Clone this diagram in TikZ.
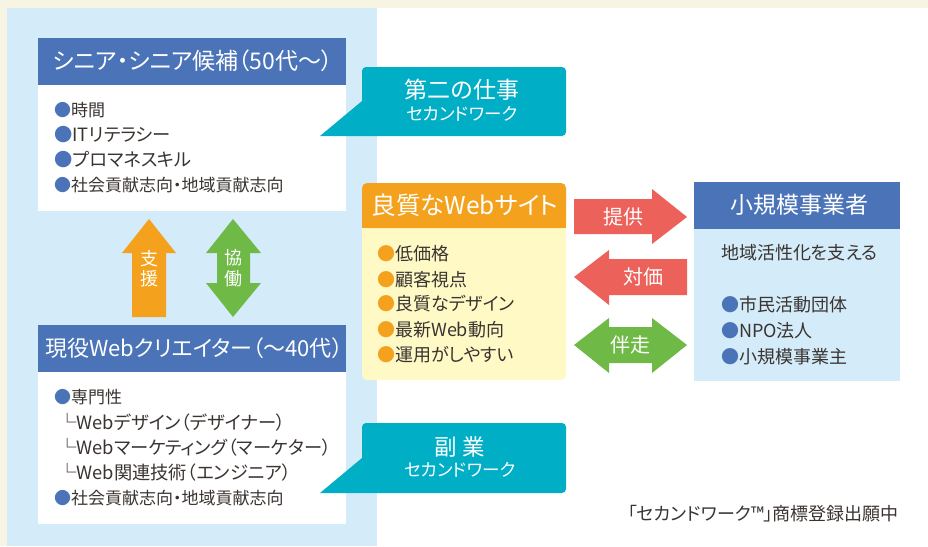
\documentclass[tikz,border=0pt]{standalone}
\usepackage{fontspec}
\setmainfont{Noto Sans CJK JP}[RawFeature=+palt]
\definecolor{cream}{HTML}{F7F4E3}
\definecolor{panel}{HTML}{D4ECF9}
\definecolor{hblue}{HTML}{4A73B8}
\definecolor{teal}{HTML}{00AEC6}
\definecolor{orng}{HTML}{F4A21D}
\definecolor{ylw}{HTML}{FFF9C6}
\definecolor{rd}{HTML}{EC625A}
\definecolor{grn}{HTML}{6FB946}
\definecolor{ink}{HTML}{3A3431}
\newcommand{\fs}[1]{\fontsize{#1}{#1}\selectfont}
\begin{document}
\begin{tikzpicture}[x=1pt,y=-1pt,
  item/.style={anchor=west,inner sep=0pt,text=ink,font=\fs{17}},
  wide/.style={font=\fs{18.3}},
  head/.style={inner sep=0pt,text=white,font=\fs{22}},
  lbl/.style={inner sep=0pt,text=white,font=\fs{20}},
  vlbl/.style={inner sep=0pt,text=white,font=\fs{18}},
  big/.style={inner sep=0pt,text=white,font=\fs{23}},
  small/.style={inner sep=0pt,text=white,font=\fs{17.5}}]
\useasboundingbox (0,0) rectangle (928,546);
% backgrounds
\fill[cream] (0,0) rectangle (928,546);
\fill[white] (7,8) rectangle (928,546);
\fill[panel] (7,8) rectangle (377,546);
% senior box
\fill[hblue] (38,38) rectangle (346,85);
\fill[white] (38,85) rectangle (346,211);
\node[head,font=\fs{23}] (shead) at (193,61) {シニア・シニア候補（50代〜）};
\node[item] (s1) at (54,110) {\textcolor{hblue}{●}時間};
\node[item,wide] (s2) at (54,135) {\textcolor{hblue}{●}ITリテラシー};
\node[item,wide] (s3) at (54,160) {\textcolor{hblue}{●}プロマネスキル};
\node[item] (s4) at (54,185) {\textcolor{hblue}{●}社会貢献志向・地域貢献志向};
% creator box
\fill[hblue] (38,325) rectangle (346,372);
\fill[white] (38,372) rectangle (346,524);
\node[head] (chead) at (194,348) {現役Webクリエイター（〜40代）};
\node[item] (c1) at (54,397) {\textcolor{hblue}{●}専門性};
\node[item,wide] (c2) at (58,422) {└Webデザイン（デザイナー）};
\node[item,wide] (c3) at (58,447) {└Webマーケティング（マーケター）};
\node[item,wide] (c4) at (58,472) {└Web関連技術（エンジニア）};
\node[item] (c5) at (54,498) {\textcolor{hblue}{●}社会貢献志向・地域貢献志向};
% support arrow
\fill[orng] (132,317) -- (132,253) -- (122,253) -- (149,219) -- (176,253) -- (166,253) -- (166,317) -- cycle;
\node[vlbl] (sa1) at (149,259) {支};
\node[vlbl] (sa2) at (149,279) {援};
% cooperation arrow
\fill[grn] (217,283) -- (206,283) -- (233,317) -- (261,283) -- (250,283) -- (250,253) -- (261,253) -- (233,219) -- (206,253) -- (217,253) -- cycle;
\node[vlbl] (ka1) at (233,258) {協};
\node[vlbl] (ka2) at (233,279) {働};
% callouts
\fill[teal] (320,136) -- (362,101) [rounded corners=4] -- (362,67) -- (566,67) -- (566,136) [sharp corners] -- cycle;
\node[big] (w1) at (462,90) {第二の仕事};
\node[small] (w1s) at (462,114) {セカンドワーク};
\fill[teal] (320,493) -- (362,458) [rounded corners=4] -- (362,423) -- (566,423) -- (566,493) [sharp corners] -- cycle;
\node[big,font=\fs{22.5}] (w2) at (460,447) {副 業};
\node[small] (w2s) at (460,470) {セカンドワーク};
% website box
\fill[ylw,rounded corners=5] (362,183) rectangle (566,380);
\fill[orng,rounded corners=5] (362,183) rectangle (566,228);
\fill[orng] (362,215) rectangle (566,228);
\node[head,font=\fs{24.5}] (whead) at (465,205) {良質なWebサイト};
\node[item,font=\fs{18}] (y1) at (377,254) {\textcolor{orng}{●}低価格};
\node[item,font=\fs{18}] (y2) at (377,280) {\textcolor{orng}{●}顧客視点};
\node[item,font=\fs{18}] (y3) at (377,304) {\textcolor{orng}{●}良質なデザイン};
\node[item,font=\fs{18}] (y4) at (377,330) {\textcolor{orng}{●}最新Web動向};
\node[item,font=\fs{18}] (y5) at (377,355) {\textcolor{orng}{●}運用がしやすい};
% business box
\fill[hblue] (694,182) rectangle (900,229);
\fill[panel] (694,229) rectangle (900,381);
\node[head,font=\fs{23}] (bhead) at (799,205) {小規模事業者};
\node[item,font=\fs{18}] (b0) at (721,253) {地域活性化を支える};
\node[item,font=\fs{18}] (b1) at (721,305) {\textcolor{hblue}{●}市民活動団体};
\node[item,font=\fs{18}] (b2) at (721,331) {\textcolor{hblue}{●}NPO法人};
\node[item,font=\fs{18}] (b3) at (721,357) {\textcolor{hblue}{●}小規模事業主};
% provide arrow
\fill[rd] (574,199) -- (652,199) -- (652,189) -- (687,217) -- (652,244) -- (652,234) -- (574,234) -- cycle;
\node[lbl] (a1) at (623,217) {提供};
% price arrow
\fill[rd] (687,259) -- (609,259) -- (609,250) -- (574,277) -- (609,305) -- (609,295) -- (687,295) -- cycle;
\node[lbl] (a2) at (643,277) {対価};
% accompany arrow
\fill[grn] (574,345) -- (609,318) -- (609,327) -- (652,327) -- (652,318) -- (687,345) -- (652,373) -- (652,363) -- (609,363) -- (609,373) -- cycle;
\node[lbl] (a3) at (630,345) {伴走};
% footnote
\node[item,anchor=east,font=\fs{18}] (fn) at (899,514) {「セカンドワーク™」商標登録出願中};
\end{tikzpicture}
\end{document}
